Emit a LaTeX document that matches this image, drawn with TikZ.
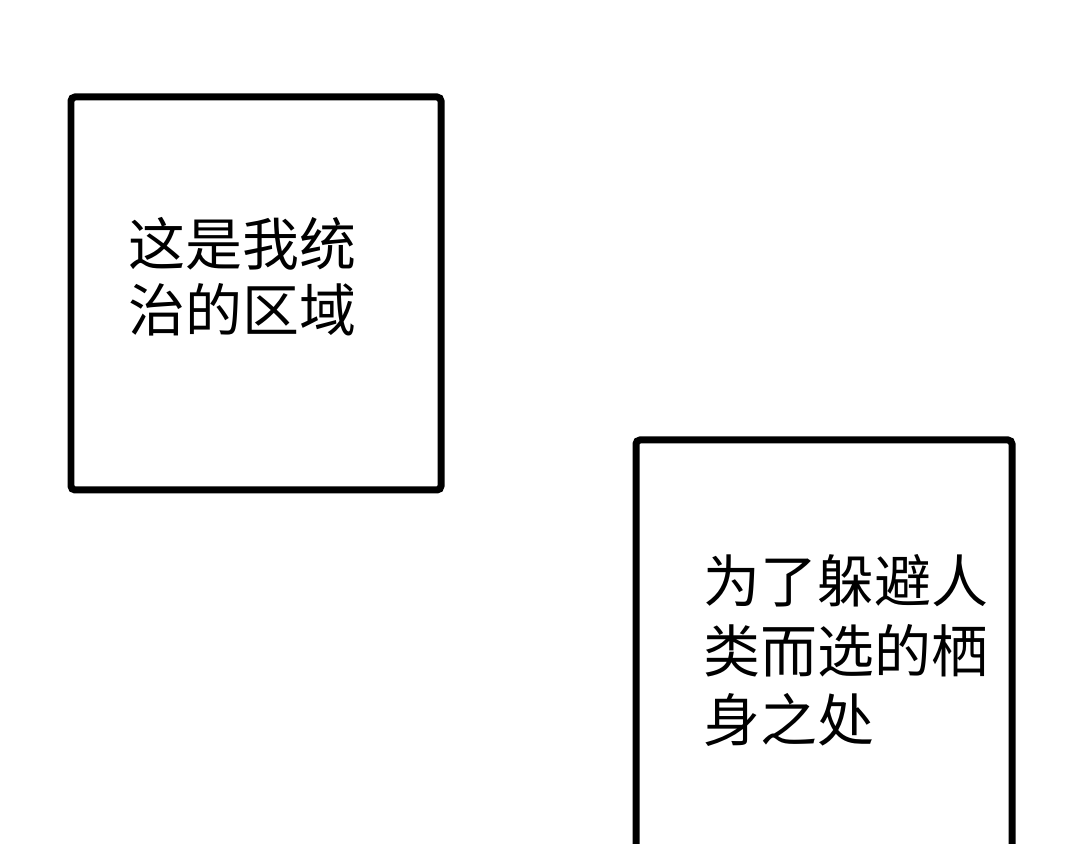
\documentclass[tikz,border=0pt]{standalone}
\usepackage{fontspec}
\newfontfamily\cjk{Noto Sans CJK SC}
\usetikzlibrary{positioning}

\begin{document}
\begin{tikzpicture}[x=0.02cm, y=-0.02cm,
      panel/.style = {draw, line width=0.14cm, rounded corners=0.08cm},
  caption/.style = {inner sep=0pt, align=left, anchor=base west,
                    font=\cjk\fontsize{32.4pt}{38.1pt}\selectfont}]
  \useasboundingbox (0,0) rectangle (1080,844);
  \clip (0,0) rectangle (1080,844);
  \fill[white] (0,0) rectangle (1080,844);
  \draw[panel] (71,97) rectangle (441,490);
  \draw[panel] (636,440) rectangle (1012,900);
  \node[caption] (t1) at (128,332) {这是我统\\治的区域};
  \node[caption, font=\cjk\fontsize{32.4pt}{39.8pt}\selectfont] (t2) at (703,742) {为了躲避人\\类而选的栖\\身之处};
\end{tikzpicture}
\end{document}
